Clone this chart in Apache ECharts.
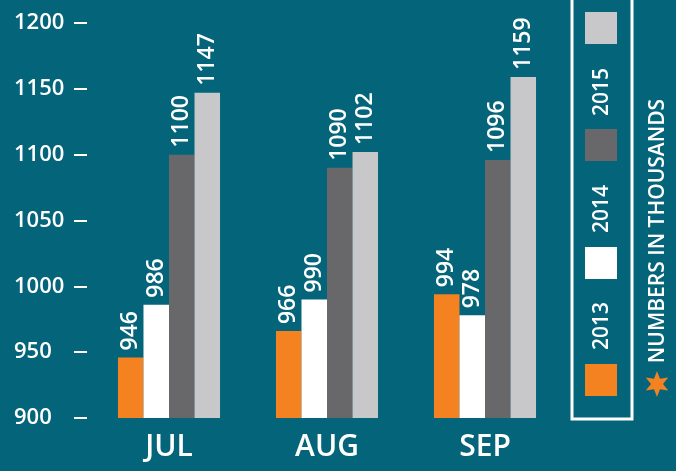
<!DOCTYPE html>
<html>
<head>
<meta charset="utf-8">
<script src="https://cdn.jsdelivr.net/npm/echarts@6/dist/echarts.min.js"></script>
<style>
  html, body { margin: 0; padding: 0; background: #03647a; }
  #chart { width: 676px; height: 471px; }
</style>
</head>
<body>
<div id="chart"></div>
<script>
const months = ['JUL', 'AUG', 'SEP'];
const values2012 = [946, 966, 994];
const values2013 = [986, 990, 978];
const values2014 = [1100, 1090, 1096];
const values2015 = [1147, 1102, 1159];
const legendLabels = ['2013', '2014', '2015'];
const yTicks = [900, 950, 1000, 1050, 1100, 1150, 1200];

const colors = ['#f58220', '#ffffff', '#68686b', '#c8c8ca'];
const font = '"Open Sans", "DejaVu Sans", sans-serif';
const weight = 600;

const chart = echarts.init(document.getElementById('chart'), null, { renderer: 'canvas' });

const barLabel = {
  show: true,
  position: 'top',
  rotate: 90,
  align: 'left',
  verticalAlign: 'middle',
  distance: 7,
  color: '#fff',
  fontFamily: font,
  fontWeight: weight,
  fontSize: 23
};

function bar(name, data, color) {
  return {
    name: name,
    type: 'bar',
    data: data,
    barGap: '0%',
    barCategoryGap: '35.4%',
    itemStyle: { color: color },
    label: barLabel
  };
}

// 6-point star next to the note
const star = [];
for (let i = 0; i < 12; i++) {
  const r = i % 2 === 0 ? 13 : 6;
  const a = -Math.PI / 2 + i * Math.PI / 6;
  star.push([657 + r * Math.cos(a), 384 + r * Math.sin(a)]);
}

const squareTops = [364, 247, 129, 12];
const labelCenters = [326, 209, 92];

const graphics = [
  {
    type: 'rect',
    shape: { x: 572, y: -10, width: 60, height: 429 },
    style: { fill: 'none', stroke: '#fff', lineWidth: 3 }
  },
  { type: 'polygon', shape: { points: star }, style: { fill: '#f58220' } },
  {
    type: 'text',
    x: 658, y: 231,
    rotation: Math.PI / 2,
    style: {
      text: 'NUMBERS IN THOUSANDS',
      fill: '#fff',
      font: weight + ' 21px ' + font,
      align: 'center',
      verticalAlign: 'middle'
    }
  }
];
squareTops.forEach((y, i) => {
  graphics.push({
    type: 'rect',
    shape: { x: 585, y: y, width: 32, height: 32 },
    style: { fill: colors[i] }
  });
});
legendLabels.forEach((t, i) => {
  graphics.push({
    type: 'text',
    x: 602.5, y: labelCenters[i],
    rotation: Math.PI / 2,
    style: {
      text: t,
      fill: '#fff',
      font: weight + ' 21px ' + font,
      align: 'center',
      verticalAlign: 'middle'
    }
  });
});

chart.setOption({
  backgroundColor: '#03647a',
  animation: false,
  grid: { left: 90, right: 112, top: 23, bottom: 53 },
  xAxis: {
    type: 'category',
    data: months,
    axisLine: { show: false },
    axisTick: { show: false },
    axisLabel: {
      color: '#fff',
      fontFamily: font,
      fontWeight: weight,
      fontSize: 30,
      margin: 14
    }
  },
  yAxis: {
    type: 'value',
    min: 900,
    max: 1200,
    interval: 50,
    offset: 3,
    axisLine: { show: false },
    axisTick: { show: true, length: 13, lineStyle: { color: '#fff', width: 2 } },
    splitLine: { show: false },
    axisLabel: {
      color: '#fff',
      fontFamily: font,
      fontWeight: weight,
      fontSize: 22,
      align: 'left',
      margin: 73,
      padding: [0, 0, 11, 0],
      formatter: v => (yTicks.includes(v) ? String(v) : '')
    }
  },
  series: [
    bar('s1', values2012, colors[0]),
    bar('s2', values2013, colors[1]),
    bar('s3', values2014, colors[2]),
    bar('s4', values2015, colors[3])
  ],
  graphic: graphics
});
</script>
</body>
</html>
